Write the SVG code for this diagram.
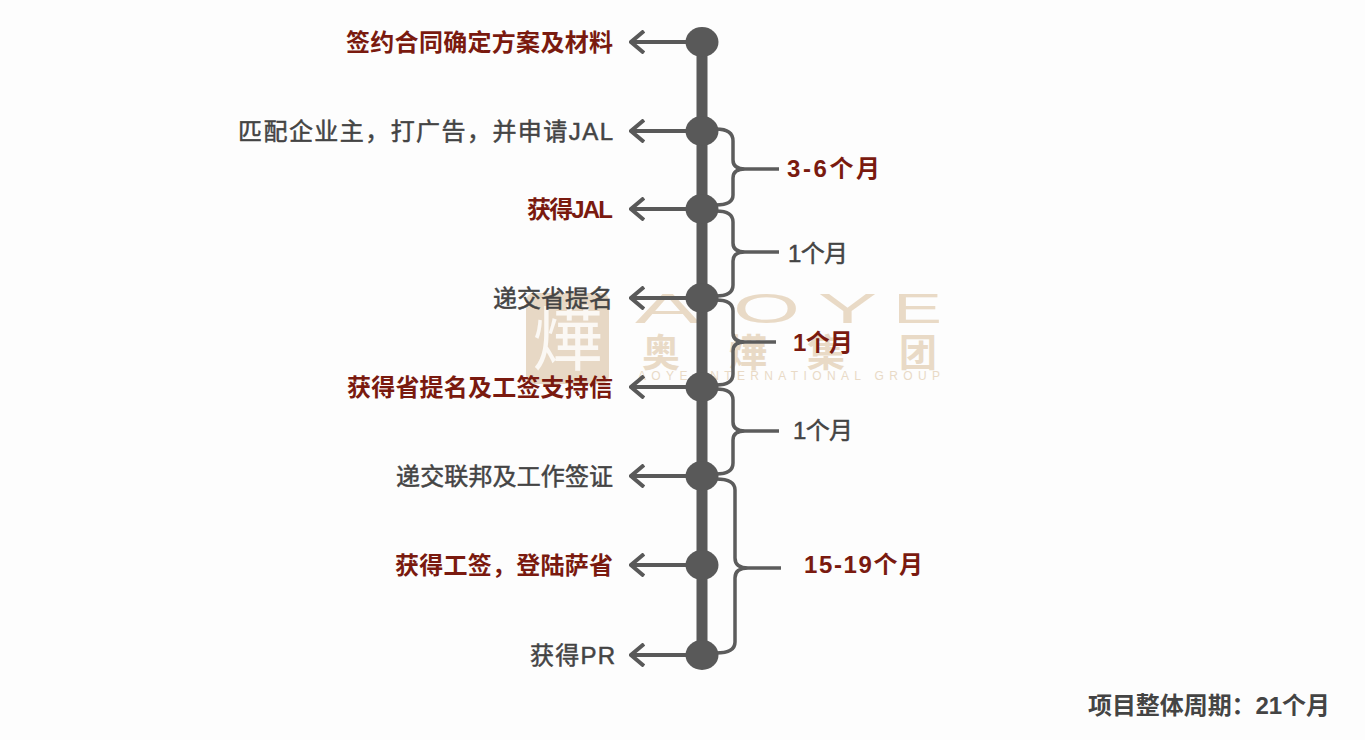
<svg xmlns="http://www.w3.org/2000/svg" width="1365" height="740" viewBox="0 0 1365 740">
<style>
.lbl{font-family:"Liberation Sans","Noto Sans CJK SC",sans-serif;font-size:24px;text-anchor:end}
.red{fill:#7a1a0f;font-weight:700}
.gray{fill:#444444;font-weight:400;stroke:#444444;stroke-width:0.5}
.dur{font-family:"Liberation Sans","Noto Sans CJK SC",sans-serif;font-size:24px}
.wmt{font-family:"Liberation Sans",sans-serif;fill:#e9dac6}
.wmc{font-family:"Noto Sans CJK SC",sans-serif;fill:#e9dac6;font-weight:700;font-size:38px;text-anchor:middle}
.arrow{stroke:#595959;stroke-width:4;fill:none}
.brace{stroke:#5c5c5c;stroke-width:3.5;fill:none;stroke-linejoin:round}
.node{fill:#595959}
</style>
<defs>
<marker id="arr" viewBox="0 0 16 24" refX="14" refY="12" markerWidth="16" markerHeight="24" markerUnits="userSpaceOnUse" orient="auto">
<path d="M1,1 L14,12 L1,23" fill="none" stroke="#595959" stroke-width="4"/>
</marker>
</defs>
<rect width="1365" height="740" fill="#fdfdfd"/>
<g id="watermark">
<rect x="526" y="293" width="83" height="91" rx="8" fill="#e7d8c5"/>
<text x="567.5" y="365" font-family="Noto Sans CJK SC,sans-serif" font-size="70" font-weight="400" fill="#fbf8f4" text-anchor="middle">燁</text>
<text class="wmt" x="635" y="323" font-size="43" textLength="65" lengthAdjust="spacingAndGlyphs">A</text>
<text class="wmt" x="733" y="323" font-size="43" textLength="67" lengthAdjust="spacingAndGlyphs">O</text>
<text class="wmt" x="818" y="323" font-size="43" textLength="59" lengthAdjust="spacingAndGlyphs">Y</text>
<text class="wmt" x="893" y="323" font-size="43" textLength="49" lengthAdjust="spacingAndGlyphs">E</text>
<text class="wmc" x="661" y="366">奥</text>
<text class="wmc" x="748" y="366">燁</text>
<text class="wmc" x="826" y="366">集</text>
<text class="wmc" x="918" y="366">团</text>
<text class="wmt" x="638" y="380" font-size="12" textLength="302" lengthAdjust="spacing">AOYE INTERNATIONAL GROUP</text>
</g>
<g id="connectors">
<line class="arrow" x1="700" y1="42" x2="631" y2="42" marker-end="url(#arr)"/>
<line class="arrow" x1="700" y1="131" x2="631" y2="131" marker-end="url(#arr)"/>
<line class="arrow" x1="700" y1="209" x2="631" y2="209" marker-end="url(#arr)"/>
<line class="arrow" x1="700" y1="298" x2="631" y2="298" marker-end="url(#arr)"/>
<line class="arrow" x1="700" y1="387" x2="631" y2="387" marker-end="url(#arr)"/>
<line class="arrow" x1="700" y1="476" x2="631" y2="476" marker-end="url(#arr)"/>
<line class="arrow" x1="700" y1="565" x2="631" y2="565" marker-end="url(#arr)"/>
<line class="arrow" x1="700" y1="655" x2="631" y2="655" marker-end="url(#arr)"/>
<path class="brace" d="M716,129 Q733,129 733,141 L733,160 Q733,169 745,169 L779,169 M745,169 Q733,169 733,178 L733,195 Q733,205 716,205"/>
<path class="brace" d="M716,211 Q733,211 733,222 L733,243 Q733,252 745,252 L779,252 M745,252 Q733,252 733,261 L733,285 Q733,296 716,296"/>
<path class="brace" d="M716,300 Q733,300 733,311 L733,333 Q733,342 745,342 L776,342 M745,342 Q733,342 733,351 L733,374 Q733,385 716,385"/>
<path class="brace" d="M716,389 Q733,389 733,400 L733,422 Q733,431 745,431 L779,431 M745,431 Q733,431 733,440 L733,463 Q733,474 716,474"/>
<path class="brace" d="M716,479 Q735,479 735,490 L735,558 Q735,568 748,568 L781,568 M748,568 Q735,568 735,578 L735,642 Q735,653 716,653"/>
</g>
<g id="spine">
<rect x="696.5" y="42" width="11" height="613" fill="#595959"/>
</g>
<g id="n1"><ellipse class="node" cx="702" cy="42" rx="16.5" ry="15"/><text class="lbl red" x="613" y="51" textLength="267" lengthAdjust="spacing">签约合同确定方案及材料</text></g>
<g id="n2"><ellipse class="node" cx="702" cy="131" rx="16.5" ry="15"/><text class="lbl gray" x="613" y="140" textLength="375" lengthAdjust="spacing">匹配企业主，打广告，并申请JAL</text></g>
<g id="n3"><ellipse class="node" cx="702" cy="209" rx="16.5" ry="15"/><text class="lbl red" x="613" y="218" textLength="86" lengthAdjust="spacing">获得JAL</text></g>
<g id="n4"><ellipse class="node" cx="702" cy="298" rx="16.5" ry="15"/><text class="lbl gray" x="613" y="307" textLength="120" lengthAdjust="spacing">递交省提名</text></g>
<g id="n5"><ellipse class="node" cx="702" cy="387" rx="16.5" ry="15"/><text class="lbl red" x="613" y="396" textLength="266" lengthAdjust="spacing">获得省提名及工签支持信</text></g>
<g id="n6"><ellipse class="node" cx="702" cy="476" rx="16.5" ry="15"/><text class="lbl gray" x="613" y="485" textLength="217" lengthAdjust="spacing">递交联邦及工作签证</text></g>
<g id="n7"><ellipse class="node" cx="702" cy="565" rx="16.5" ry="15"/><text class="lbl red" x="613" y="574" textLength="218" lengthAdjust="spacing">获得工签，登陆萨省</text></g>
<g id="n8"><ellipse class="node" cx="702" cy="655" rx="16.5" ry="15"/><text class="lbl gray" x="615" y="664" textLength="85" lengthAdjust="spacing">获得PR</text></g>
<g id="durations">
<text class="dur red" x="787" y="177" textLength="93" lengthAdjust="spacing">3-6个月</text>
<text class="dur gray" x="788" y="262" textLength="60" lengthAdjust="spacing">1个月</text>
<text class="dur red" x="793" y="351" textLength="60" lengthAdjust="spacing">1个月</text>
<text class="dur gray" x="793" y="439" textLength="60" lengthAdjust="spacing">1个月</text>
<text class="dur red" x="804" y="573" textLength="119" lengthAdjust="spacing">15-19个月</text>
</g>
<g id="total">
<text class="dur" x="1088" y="714" fill="#444444" font-weight="700" textLength="242" lengthAdjust="spacing">项目整体周期：21个月</text>
</g>
</svg>
